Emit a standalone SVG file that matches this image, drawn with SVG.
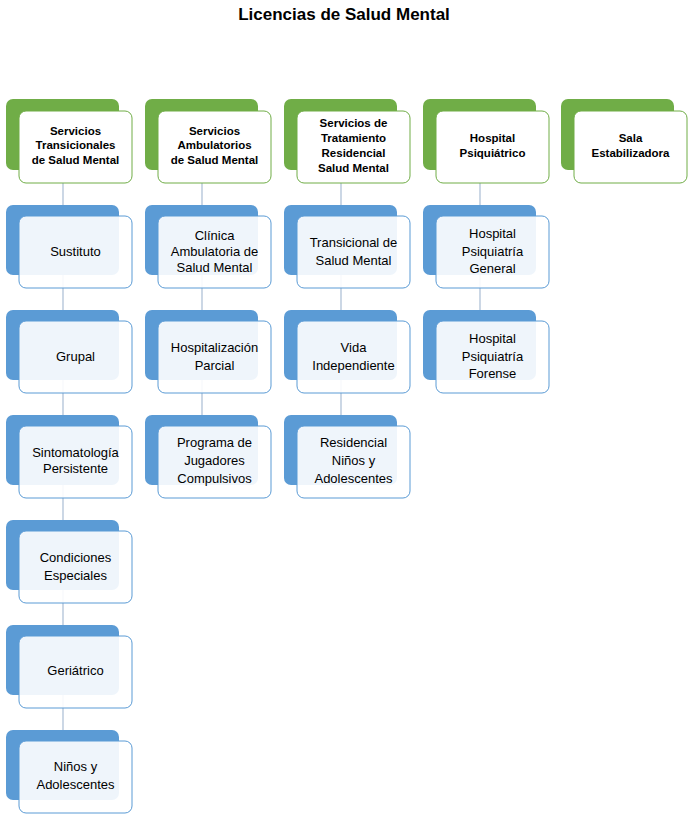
<svg xmlns="http://www.w3.org/2000/svg" width="692" height="817" viewBox="0 0 692 817">
<defs><style>
.hb{fill:#70ad47;}
.hf{fill:#fff;stroke:#70ad47;stroke-width:1;}
.cb{fill:#5b9bd5;}
.cf{fill:#fff;fill-opacity:0.9;stroke:#5b9bd5;stroke-width:1;}
.ht{font-family:"Liberation Sans",Arial,sans-serif;font-weight:bold;font-size:11.5px;text-anchor:middle;fill:#000;}
.ct{font-family:"Liberation Sans",Arial,sans-serif;font-size:13px;text-anchor:middle;fill:#000;}
.ln{stroke:#a9bcd4;stroke-width:1.2;fill:none;}
</style></defs>
<rect width="692" height="817" fill="#fff"/>
<text x="344" y="20" style="font-family:'Liberation Sans',Arial,sans-serif;font-weight:bold;font-size:17px;text-anchor:middle">Licencias de Salud Mental</text>
<g id="connectors">
<line class="ln" x1="63" y1="183" x2="63" y2="740"/>
<line class="ln" x1="202" y1="183" x2="202" y2="426"/>
<line class="ln" x1="341" y1="183" x2="341" y2="426"/>
<line class="ln" x1="480" y1="183" x2="480" y2="321"/>
</g>
<g id="h1"><rect class="hb" x="6" y="99" width="113" height="71" rx="7"/><rect class="hf" x="19" y="111" width="113" height="72" rx="7"/>
<text class="ht" x="75.5" y="135">Servicios</text><text class="ht" x="75.5" y="149">Transicionales</text><text class="ht" x="75.5" y="164">de Salud Mental</text></g>
<g id="h2"><rect class="hb" x="145" y="99" width="113" height="71" rx="7"/><rect class="hf" x="158" y="111" width="113" height="72" rx="7"/>
<text class="ht" x="214.5" y="135">Servicios</text><text class="ht" x="214.5" y="149">Ambulatorios</text><text class="ht" x="214.5" y="164">de Salud Mental</text></g>
<g id="h3"><rect class="hb" x="284" y="99" width="113" height="71" rx="7"/><rect class="hf" x="297" y="111" width="113" height="72" rx="7"/>
<text class="ht" x="353.5" y="127">Servicios de</text><text class="ht" x="353.5" y="142">Tratamiento</text><text class="ht" x="353.5" y="157">Residencial</text><text class="ht" x="353.5" y="172">Salud Mental</text></g>
<g id="h4"><rect class="hb" x="423" y="99" width="113" height="71" rx="7"/><rect class="hf" x="436" y="111" width="113" height="72" rx="7"/>
<text class="ht" x="492.5" y="142">Hospital</text><text class="ht" x="492.5" y="157">Psiquiátrico</text></g>
<g id="h5"><rect class="hb" x="561" y="99" width="113" height="71" rx="7"/><rect class="hf" x="574" y="111" width="113" height="72" rx="7"/>
<text class="ht" x="630.5" y="142">Sala</text><text class="ht" x="630.5" y="157">Estabilizadora</text></g>

<g id="c1a"><rect class="cb" x="6" y="205" width="113" height="70" rx="7"/><rect class="cf" x="19" y="216" width="113" height="72" rx="7"/><text class="ct" x="75.5" y="256">Sustituto</text></g>
<g id="c1b"><rect class="cb" x="6" y="310" width="113" height="70" rx="7"/><rect class="cf" x="19" y="321" width="113" height="72" rx="7"/><text class="ct" x="75.5" y="361">Grupal</text></g>
<g id="c1c"><rect class="cb" x="6" y="415" width="113" height="70" rx="7"/><rect class="cf" x="19" y="426" width="113" height="72" rx="7"/><text class="ct" x="75.5" y="457">Sintomatología</text><text class="ct" x="75.5" y="473">Persistente</text></g>
<g id="c1d"><rect class="cb" x="6" y="520" width="113" height="70" rx="7"/><rect class="cf" x="19" y="531" width="113" height="72" rx="7"/><text class="ct" x="75.5" y="562">Condiciones</text><text class="ct" x="75.5" y="580">Especiales</text></g>
<g id="c1e"><rect class="cb" x="6" y="625" width="113" height="70" rx="7"/><rect class="cf" x="19" y="636" width="113" height="72" rx="7"/><text class="ct" x="75.5" y="675">Geriátrico</text></g>
<g id="c1f"><rect class="cb" x="6" y="730" width="113" height="70" rx="7"/><rect class="cf" x="19" y="741" width="113" height="72" rx="7"/><text class="ct" x="75.5" y="771">Niños y</text><text class="ct" x="75.5" y="789">Adolescentes</text></g>

<g id="c2a"><rect class="cb" x="145" y="205" width="113" height="70" rx="7"/><rect class="cf" x="158" y="216" width="113" height="72" rx="7"/><text class="ct" x="214.5" y="240">Clínica</text><text class="ct" x="214.5" y="256">Ambulatoria de</text><text class="ct" x="214.5" y="272">Salud Mental</text></g>
<g id="c2b"><rect class="cb" x="145" y="310" width="113" height="70" rx="7"/><rect class="cf" x="158" y="321" width="113" height="72" rx="7"/><text class="ct" x="214.5" y="352">Hospitalización</text><text class="ct" x="214.5" y="370">Parcial</text></g>
<g id="c2c"><rect class="cb" x="145" y="415" width="113" height="70" rx="7"/><rect class="cf" x="158" y="426" width="113" height="72" rx="7"/><text class="ct" x="214.5" y="447">Programa de</text><text class="ct" x="214.5" y="465">Jugadores</text><text class="ct" x="214.5" y="483">Compulsivos</text></g>

<g id="c3a"><rect class="cb" x="284" y="205" width="113" height="70" rx="7"/><rect class="cf" x="297" y="216" width="113" height="72" rx="7"/><text class="ct" x="353.5" y="247">Transicional de</text><text class="ct" x="353.5" y="265">Salud Mental</text></g>
<g id="c3b"><rect class="cb" x="284" y="310" width="113" height="70" rx="7"/><rect class="cf" x="297" y="321" width="113" height="72" rx="7"/><text class="ct" x="353.5" y="352">Vida</text><text class="ct" x="353.5" y="370">Independiente</text></g>
<g id="c3c"><rect class="cb" x="284" y="415" width="113" height="70" rx="7"/><rect class="cf" x="297" y="426" width="113" height="72" rx="7"/><text class="ct" x="353.5" y="447">Residencial</text><text class="ct" x="353.5" y="465">Niños y</text><text class="ct" x="353.5" y="483">Adolescentes</text></g>

<g id="c4a"><rect class="cb" x="423" y="205" width="113" height="70" rx="7"/><rect class="cf" x="436" y="216" width="113" height="72" rx="7"/><text class="ct" x="492.5" y="238">Hospital</text><text class="ct" x="492.5" y="256">Psiquiatría</text><text class="ct" x="492.5" y="273">General</text></g>
<g id="c4b"><rect class="cb" x="423" y="310" width="113" height="70" rx="7"/><rect class="cf" x="436" y="321" width="113" height="72" rx="7"/><text class="ct" x="492.5" y="343">Hospital</text><text class="ct" x="492.5" y="361">Psiquiatría</text><text class="ct" x="492.5" y="378">Forense</text></g>
</svg>
